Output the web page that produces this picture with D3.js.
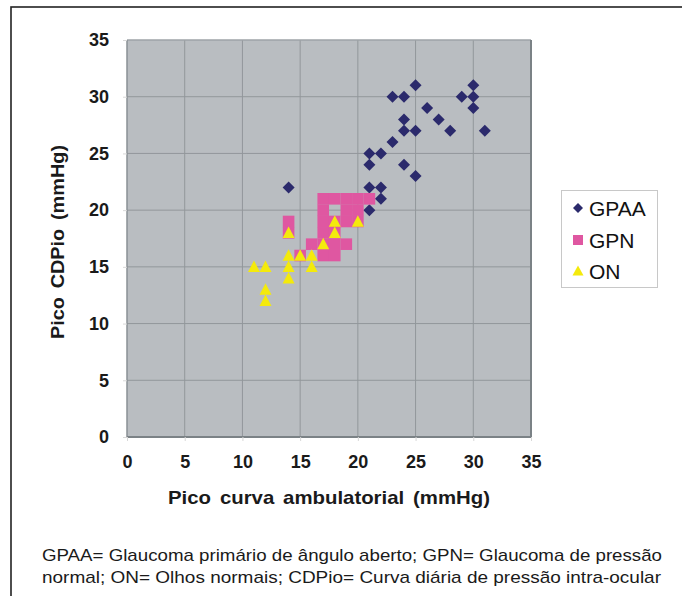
<!DOCTYPE html>
<html><head><meta charset="utf-8">
<script src="https://cdn.jsdelivr.net/npm/d3@7"></script>
<style>
html,body{margin:0;padding:0;background:#fff;}
svg{display:block;}
</style></head>
<body>
<script>
// ---- data ----
const seriesNames = ["GPAA", "GPN", "ON"];
const gpaaX = [25,30,23,24,29,30,30,26,27,24,24,25,28,31,23,21,22,21,24,25,14,21,22,22,21];
const gpaaY = [31,31,30,30,30,30,29,29,28,28,27,27,27,27,26,25,25,24,24,23,22,22,22,21,20];
const gpnX = [17,18,19,20,21, 17,19,20, 14,17,18,19,20, 14,17,18, 16,17,18,19, 15,17,18];
const gpnY = [21,21,21,21,21, 20,20,20, 19,19,19,19,19, 18,18,18, 17,17,17,17, 16,16,16];
const onX = [11,12,14,15,16,14,16,14,12,12,14,17,18,18,20];
const onY = [15,15,16,16,16,15,15,14,13,12,18,17,19,18,19];
const xTicks = [0,5,10,15,20,25,30,35];
const yTicks = [0,5,10,15,20,25,30,35];
const xTitle = "Pico curva ambulatorial (mmHg)";
const yTitle = "Pico CDPio (mmHg)";
const captionLines = [
  "GPAA= Glaucoma primário de ângulo aberto; GPN= Glaucoma de pressão",
  "normal; ON= Olhos normais; CDPio= Curva diária de pressão intra-ocular"
];

const W = 682, H = 596;
const svg = d3.select("body").append("svg").attr("width", W).attr("height", H);
const font = "'Liberation Sans', Arial, Helvetica, sans-serif";

// outer frame
svg.append("rect").attr("x", 11).attr("y", 7).attr("width", 700).attr("height", 620)
  .attr("fill", "none").attr("stroke", "#222").attr("stroke-width", 1.6);

const x = d3.scaleLinear().domain([0, 35]).range([127, 531]);
const y = d3.scaleLinear().domain([0, 35]).range([437, 40]);

// plot background
svg.append("rect").attr("x", x(0)).attr("y", y(35)).attr("width", x(35) - x(0)).attr("height", y(0) - y(35))
  .attr("fill", "#b9bdc1");

// grid
const g = svg.append("g");
g.selectAll(".vg").data(xTicks.slice(1, -1)).enter().append("line")
  .attr("x1", d => x(d)).attr("x2", d => x(d)).attr("y1", y(35)).attr("y2", y(0))
  .attr("stroke", "#92979b").attr("stroke-width", 1);
g.selectAll(".hg").data(yTicks.slice(1, -1)).enter().append("line")
  .attr("y1", d => y(d)).attr("y2", d => y(d)).attr("x1", x(0)).attr("x2", x(35))
  .attr("stroke", "#92979b").attr("stroke-width", 1);

// border: top/left lighter, right/bottom darker
svg.append("line").attr("x1", x(0)).attr("x2", x(35)).attr("y1", y(35)).attr("y2", y(35)).attr("stroke", "#9ea3a7").attr("stroke-width", 1.5);
svg.append("line").attr("x1", x(0)).attr("x2", x(0)).attr("y1", y(35)).attr("y2", y(0)).attr("stroke", "#8a9094").attr("stroke-width", 1.5);
svg.append("line").attr("x1", x(35)).attr("x2", x(35)).attr("y1", y(35)).attr("y2", y(0)).attr("stroke", "#7b8286").attr("stroke-width", 2);
svg.append("line").attr("x1", x(0)).attr("x2", x(35)).attr("y1", y(0)).attr("y2", y(0)).attr("stroke", "#7b8286").attr("stroke-width", 2);

// axes (labels only)
const xAxis = d3.axisBottom(x).tickValues(xTicks).tickSize(4).tickPadding(14);
const xa = svg.append("g").attr("transform", `translate(0,${y(0)})`).call(xAxis);
xa.select(".domain").remove();
xa.selectAll(".tick line").attr("stroke", "#d8d8d8");
xa.selectAll("text").attr("font-family", font).attr("font-size", 18).attr("font-weight", "bold").attr("fill", "#1a1a1a");

const yAxis = d3.axisLeft(y).tickValues(yTicks).tickSize(4).tickPadding(14);
const ya = svg.append("g").attr("transform", `translate(${x(0)},0)`).call(yAxis);
ya.select(".domain").remove();
ya.selectAll(".tick line").attr("stroke", "#d8d8d8");
ya.selectAll("text").attr("font-family", font).attr("font-size", 18).attr("font-weight", "bold").attr("fill", "#1a1a1a");

// titles
svg.append("text").attr("x", 329).attr("y", 504).attr("text-anchor", "middle")
  .attr("font-family", font).attr("font-size", 19).attr("font-weight", "bold").attr("fill", "#1a1a1a")
  .attr("word-spacing", 3).attr("textLength", 322).attr("lengthAdjust", "spacingAndGlyphs").text(xTitle);
svg.append("text").attr("transform", "translate(64,242) rotate(-90)").attr("text-anchor", "middle")
  .attr("font-family", font).attr("font-size", 19).attr("font-weight", "bold").attr("fill", "#1a1a1a")
  .attr("word-spacing", 3).attr("textLength", 194).attr("lengthAdjust", "spacingAndGlyphs").text(yTitle);

// markers
const colors = {GPAA: "#2b2a6c", GPN: "#df57a1", ON: "#f4ea0c"};
const diamond = s => `M0,${-s}L${s},0L0,${s}L${-s},0Z`;
const tri = (w, h) => `M0,${-h * 0.55}L${w / 2},${h * 0.45}L${-w / 2},${h * 0.45}Z`;

const gpaa = gpaaX.map((v, i) => ({x: v, y: gpaaY[i]}));
const gpn = gpnX.map((v, i) => ({x: v, y: gpnY[i]}));
const on = onX.map((v, i) => ({x: v, y: onY[i]}));

svg.append("g").selectAll("path").data(gpaa).enter().append("path")
  .attr("d", diamond(6)).attr("transform", d => `translate(${x(d.x)},${y(d.y)})`)
  .attr("fill", colors.GPAA);

const sq = 11.6;
svg.append("g").selectAll("rect").data(gpn).enter().append("rect")
  .attr("x", d => x(d.x) - sq / 2).attr("y", d => y(d.y) - sq / 2)
  .attr("width", sq).attr("height", sq).attr("fill", colors.GPN);

svg.append("g").selectAll("path").data(on).enter().append("path")
  .attr("d", tri(12, 11.5)).attr("transform", d => `translate(${x(d.x)},${y(d.y)})`)
  .attr("fill", colors.ON);

// legend
const lg = svg.append("g");
lg.append("rect").attr("x", 561.5).attr("y", 190.5).attr("width", 96).attr("height", 97)
  .attr("fill", "#fff").attr("stroke", "#c8c8c8").attr("stroke-width", 1);
const rows = [208, 240, 271];
seriesNames.forEach((name, i) => {
  const cy = rows[i];
  if (name === "GPAA") lg.append("path").attr("d", diamond(5)).attr("transform", `translate(578,${cy})`).attr("fill", colors.GPAA);
  if (name === "GPN") lg.append("rect").attr("x", 573).attr("y", cy - 5).attr("width", 10).attr("height", 10).attr("fill", colors.GPN);
  if (name === "ON") lg.append("path").attr("d", tri(11, 10)).attr("transform", `translate(578,${cy})`).attr("fill", colors.ON);
  lg.append("text").attr("x", 589).attr("y", cy + 7.5).attr("font-family", font).attr("font-size", 21)
    .attr("fill", "#111").text(name);
});

// caption
captionLines.forEach((t, i) => {
  svg.append("text").attr("x", 42).attr("y", 561 + i * 22).attr("font-family", font).attr("font-size", 17)
    .attr("fill", "#1a1a1a").attr("textLength", i === 0 ? 620 : 619).attr("lengthAdjust", "spacingAndGlyphs").text(t);
});
</script>
</body></html>
